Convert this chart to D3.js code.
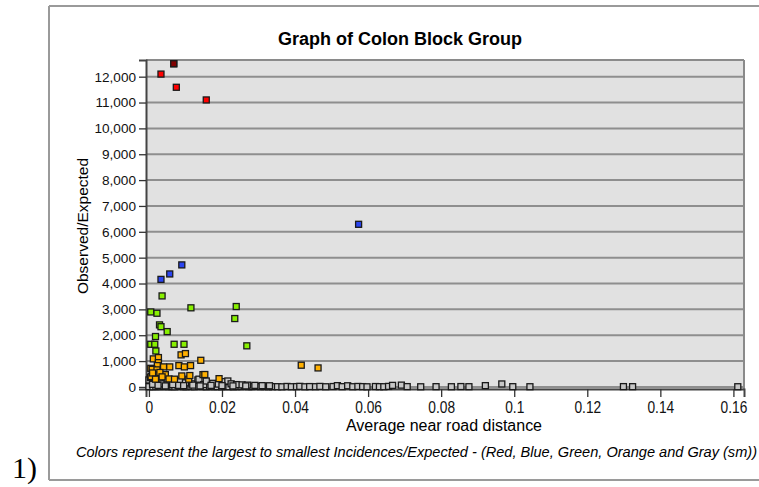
<!DOCTYPE html>
<html><head><meta charset="utf-8">
<script src="https://cdn.jsdelivr.net/npm/d3@7"></script>
<style>
html,body{margin:0;padding:0;background:#fff;}
svg{display:block;}
</style></head>
<body>
<svg id="chart" width="759" height="487"></svg>
<script>
// ---- data ----
const chartTitle = "Graph of Colon Block Group";
const xTitle = "Average near road distance";
const yTitle = "Observed/Expected";
const footnote = "Colors represent the largest to smallest Incidences/Expected - (Red, Blue, Green, Orange and Gray (sm))";
const xTicks = [0, 0.02, 0.04, 0.06, 0.08, 0.1, 0.12, 0.14, 0.16];
const xTickLabels = ["0", "0.02", "0.04", "0.06", "0.08", "0.1", "0.12", "0.14", "0.16"];
const yTicks = [0,1000,2000,3000,4000,5000,6000,7000,8000,9000,10000,11000,12000];

const redX = [0.0033, 0.0068, 0.0075, 0.0157];
const redY = [12100, 12500, 11590, 11100];

const blueX = [0.0574, 0.0090, 0.0057, 0.0033];
const blueY = [6290, 4720, 4370, 4160];

const greenX = [0.0036, 0.0005, 0.0022, 0.0115, 0.0239, 0.0235, 0.0029, 0.0033, 0.0050, 0.0018, 0.0005, 0.0016, 0.0069, 0.0096, 0.0019, 0.0268];
const greenY = [3520, 2900, 2850, 3060, 3110, 2645, 2400, 2330, 2140, 1950, 1650, 1650, 1650, 1650, 1390, 1590];

const orangeX = [0.0012, 0.0026, 0.0026, 0.0023, 0.0005, 0.0009, 0.0022, 0.0040, 0.0057, 0.0082, 0.0097, 0.0114, 0.0088, 0.0100, 0.0142, 0.0417, 0.0463, 0.0006, 0.0027, 0.0045, 0.0055, 0.0090, 0.0109, 0.0112, 0.0148, 0.0153, 0.0192, 0.0010, 0.0030, 0.0070, 0.0036, 0.0018];
const orangeY = [1085, 1135, 940, 825, 720, 680, 660, 775, 775, 825, 775, 825, 1240, 1290, 1030, 840, 735, 400, 465, 475, 310, 425, 300, 440, 475, 480, 320, 540, 560, 300, 390, 300];

const grayX = [0.0000,0.0011,0.0019,0.0031,0.0040,0.0052,0.0063,0.0071,0.0083,0.0094,0.0102,0.0115,0.0124,0.0136,0.0145,0.0157,0.0166,0.0178,0.0187,0.0199,0.0208,0.0219,0.0231,0.0240,0.0252,0.0261,0.0273,0.0282,0.0293,0.0305,0.0316,0.0327,0.0338,
 0.0352,0.0364,0.0378,0.0390,0.0404,0.0413,0.0427,0.0440,0.0456,0.0468,0.0484,0.0504,0.0516,0.0529,0.0544,0.0558,0.0572,0.0585,0.0597,0.0620,0.0631,0.0643,0.0656,0.0667,0.0691,0.0707,0.0744,0.0786,0.0828,0.0854,0.0876,0.0921,0.0966,0.0996,0.1043,0.1299,0.1324,0.1612,
 0.0000,0.0004,0.0015,0.0020,0.0030,0.0038,0.0050,0.0060,0.0072,0.0085,0.0100,0.0118,0.0134,0.0137,0.0150,0.0157,0.0175,0.0190,0.0207,0.0216,0.0225,0.0240,0.0255,0.0270,0.0290,0.0310,0.0330,0.0050,0.0080,0.0120,0.0010,0.0025,0.0045,0.0065,0.0095,0.0140,0.0170,0.0200,0.0230,0.0265];
const grayY = [10,5,15,8,20,6,12,4,18,9,7,14,5,22,10,6,16,8,12,5,18,9,6,14,10,25,8,12,20,9,15,7,11,
 10,5,18,8,12,22,6,14,9,20,7,15,50,10,45,8,18,12,6,15,10,8,20,60,70,12,6,10,8,14,9,50,115,10,8,12,10,8,
 270,360,300,180,230,120,260,150,200,240,160,120,270,300,90,230,140,110,205,230,120,90,80,70,60,50,45,80,60,70,100,60,40,90,50,40,60,50,40,40];

// ---- layout ----
const svg = d3.select("#chart");
const L = 146, R = 744, T = 60, B = 389;
const x = d3.scaleLinear().domain([-0.0008, 0.1629]).range([L, R]);
const y = d3.scaleLinear().domain([-80, 12645]).range([B, T]);

// outer frame
const frame = svg.append("g").attr("stroke", "#9a9a9a").attr("stroke-width", 2).attr("fill", "none");
frame.append("line").attr("x1", 49).attr("y1", 6).attr("x2", 759).attr("y2", 6);
frame.append("line").attr("x1", 49).attr("y1", 6).attr("x2", 49).attr("y2", 480);
frame.append("line").attr("x1", 49).attr("y1", 480).attr("x2", 759).attr("y2", 480);

svg.append("text").attr("x", 12).attr("y", 478)
  .attr("font-family", "'Liberation Serif','Times New Roman',serif").attr("font-size", 30)
  .attr("fill", "#000").text("1)");

// plot background
svg.append("rect").attr("x", L).attr("y", T).attr("width", R - L).attr("height", B - T).attr("fill", "#e1e1e1");

// gridlines
svg.append("g").selectAll("line").data(yTicks).join("line")
  .attr("x1", L).attr("x2", R).attr("y1", d => y(d)).attr("y2", d => y(d))
  .attr("stroke", "#8e8e8e").attr("stroke-width", 2);

// border top/right
svg.append("line").attr("x1", L).attr("x2", R).attr("y1", T).attr("y2", T).attr("stroke", "#8a8a8a").attr("stroke-width", 2);
svg.append("line").attr("x1", R).attr("x2", R).attr("y1", T).attr("y2", B).attr("stroke", "#8a8a8a").attr("stroke-width", 2);

// axes
const yAxis = d3.axisLeft(y).tickValues(yTicks).tickFormat(d3.format(",")).tickSize(7).tickPadding(3);
const gy = svg.append("g").attr("transform", `translate(${L},0)`).call(yAxis);
gy.select(".domain").attr("stroke", "#444").attr("stroke-width", 2);
gy.selectAll(".tick line").attr("stroke", "#333").attr("stroke-width", 1.3);
gy.selectAll(".tick text").attr("font-family", "'Liberation Sans',Arial,sans-serif").attr("font-size", 13.6).attr("fill", "#111");

const xAxis = d3.axisBottom(x).tickValues(xTicks).tickFormat((d, i) => xTickLabels[i]).tickSize(8).tickPadding(5);
const gx = svg.append("g").attr("transform", `translate(0,${B})`).call(xAxis);
gx.select(".domain").attr("stroke", "#444").attr("stroke-width", 2);
gx.selectAll(".tick line").attr("stroke", "#333").attr("stroke-width", 1.3);
gx.selectAll(".tick text").attr("font-family", "'Liberation Sans',Arial,sans-serif").attr("font-size", 16)
  .attr("fill", "#111").attr("transform", "scale(0.86,1)");

// points
function drawSeries(xs, ys, fill) {
  const data = xs.map((v, i) => [v, ys[i]]);
  svg.append("g").selectAll("rect").data(data).join("rect")
    .attr("x", d => x(d[0]) - 3).attr("y", d => y(d[1]) - 3)
    .attr("width", 6).attr("height", 6)
    .attr("fill", fill).attr("stroke", "#1a1a1a").attr("stroke-width", 1.3);
}
drawSeries(grayX, grayY, "#c6c6c6");
drawSeries(orangeX, orangeY, "#ffb000");
drawSeries(greenX, greenY, "#88f000");
drawSeries(blueX, blueY, "#2a44f0");
drawSeries(redX, redY, "#ff0000");
// the topmost red point appears darker
svg.append("rect").attr("x", x(redX[1]) - 3).attr("y", y(redY[1]) - 3).attr("width", 6).attr("height", 6)
  .attr("fill", "#800000").attr("stroke", "#1a1a1a").attr("stroke-width", 1.3);

// titles
svg.append("text").attr("x", 400).attr("y", 45).attr("text-anchor", "middle")
  .attr("font-family", "'Liberation Sans',Arial,sans-serif").attr("font-weight", "bold").attr("font-size", 18)
  .text(chartTitle);
svg.append("text").attr("x", 444).attr("y", 431).attr("text-anchor", "middle")
  .attr("font-family", "'Liberation Sans',Arial,sans-serif").attr("font-size", 16)
  .attr("textLength", 196).attr("lengthAdjust", "spacingAndGlyphs")
  .text(xTitle);
svg.append("text").attr("transform", "translate(88,226) rotate(-90)").attr("text-anchor", "middle")
  .attr("font-family", "'Liberation Sans',Arial,sans-serif").attr("font-size", 15.5)
  .text(yTitle);
svg.append("text").attr("x", 76).attr("y", 457)
  .attr("font-family", "'Liberation Sans',Arial,sans-serif").attr("font-style", "italic").attr("font-size", 14)
  .attr("textLength", 681).attr("lengthAdjust", "spacingAndGlyphs")
  .text(footnote);
</script>
</body></html>
